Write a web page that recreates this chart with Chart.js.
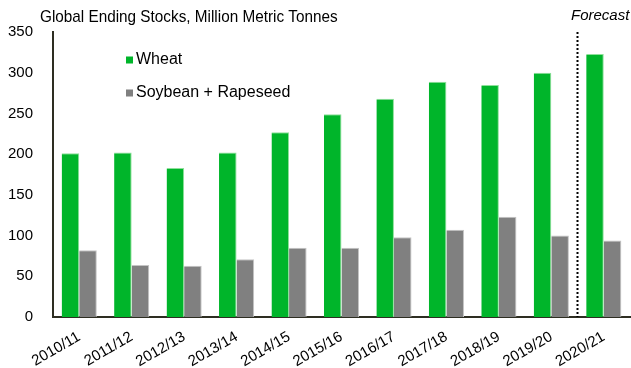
<!DOCTYPE html>
<html>
<head>
<meta charset="utf-8">
<script src="https://cdn.jsdelivr.net/npm/chart.js@4/dist/chart.umd.min.js"></script>
<style>
  html, body { margin: 0; padding: 0; background: #fff; }
  #wrap { width: 631px; height: 368px; }
</style>
</head>
<body>
<div id="wrap"><canvas id="graph_1"></canvas></div>
<script>
// データ
var seasons = ['2010/11', '2011/12', '2012/13', '2013/14', '2014/15', '2015/16',
               '2016/17', '2017/18', '2018/19', '2019/20', '2020/21'];
var wheat = [201, 202, 183, 202, 227, 249, 268, 289, 285, 300, 323];
var oilseeds = [82, 64, 63, 71, 85, 85, 98, 107, 123, 100, 94];
var yTicks = [0, 50, 100, 150, 200, 250, 300, 350];
var forecastFrom = '2020/21';

var FONT = 'Arial, "Liberation Sans", sans-serif';

// タイトル・凡例・予測ラインを描くプラグイン
var extras = {
    id: 'extras',
    afterDraw: function (chart) {
        var c = chart.ctx;
        var area = chart.chartArea;
        var x = chart.scales.x;
        c.save();

        // タイトル (少し細めに)
        c.fillStyle = '#000';
        c.textBaseline = 'middle';
        c.textAlign = 'left';
        c.save();
        c.scale(0.9, 1);
        c.font = '17px ' + FONT;
        c.fillText('Global Ending Stocks, Million Metric Tonnes', 40 / 0.9, 17);
        c.restore();

        // 予測の区切り線
        var i = seasons.indexOf(forecastFrom);
        var lx = Math.round((x.getPixelForTick(i - 1) + x.getPixelForTick(i)) / 2) - 0.5;
        c.strokeStyle = '#000';
        c.lineWidth = 2;
        c.setLineDash([2, 2]);
        c.beginPath();
        c.moveTo(lx, area.top);
        c.lineTo(lx, area.bottom);
        c.stroke();
        c.setLineDash([]);

        c.font = 'italic 15px ' + FONT;
        c.fillText('Forecast', 571, 16);

        // 凡例
        c.font = '16px ' + FONT;
        chart.data.datasets.forEach(function (ds, k) {
            var y = 60 + k * 33;
            c.fillStyle = ds.backgroundColor;
            c.fillRect(126, y - 3.5, 7, 7);
            c.fillStyle = '#000';
            c.fillText(ds.label, 136, y);
        });
        c.restore();
    }
};

var ctx = document.getElementById('graph_1');
new Chart(ctx, {
    type: 'bar',
    data: {
        labels: seasons,
        datasets: [{
            label: 'Wheat',
            data: wheat,
            backgroundColor: '#00b52a',
            borderColor: '#8ee09a',
            borderWidth: { top: 1, right: 1, left: 0, bottom: 0 },
            barPercentage: 1,
            categoryPercentage: 0.67
        }, {
            label: 'Soybean + Rapeseed',
            data: oilseeds,
            backgroundColor: '#808080',
            borderColor: '#c4c4c4',
            borderWidth: { top: 1, right: 1, left: 0, bottom: 0 },
            barPercentage: 1,
            categoryPercentage: 0.67
        }]
    },
    options: {
        responsive: true,
        maintainAspectRatio: false,
        animation: false,
        layout: { padding: { top: 32, right: 1, left: 0, bottom: 0 } },
        plugins: {
            legend: { display: false },
            tooltip: { enabled: false }
        },
        scales: {
            x: {
                grid: { display: false, drawTicks: false },
                border: { color: '#2e2e22', width: 2 },
                ticks: {
                    color: '#000',
                    font: { family: FONT, size: 15 },
                    maxRotation: 30,
                    minRotation: 30,
                    padding: 11
                },
                afterFit: function (s) { s.height = 51; }
            },
            y: {
                min: 0,
                max: 350,
                afterBuildTicks: function (s) {
                    s.ticks = yTicks.map(function (v) { return { value: v }; });
                },
                grid: { display: false, drawTicks: false },
                border: { color: '#2e2e22', width: 2 },
                ticks: {
                    color: '#000',
                    font: { family: FONT, size: 15 },
                    padding: 20
                },
                afterFit: function (s) { s.width = 53; }
            }
        }
    },
    plugins: [extras]
});
</script>
</body>
</html>
